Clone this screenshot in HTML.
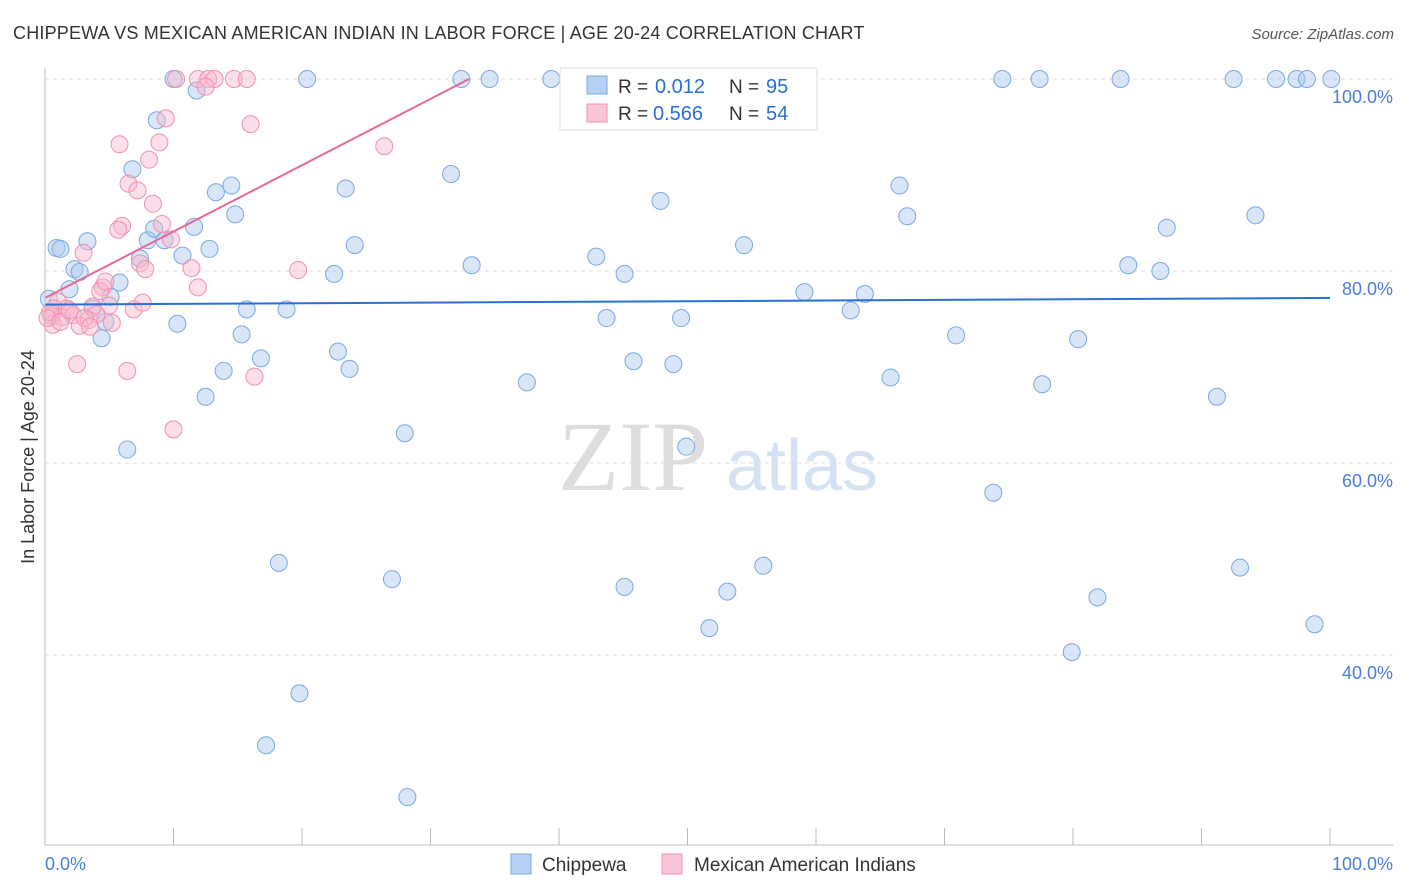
<!DOCTYPE html>
<html><head><meta charset="utf-8"><style>
body{margin:0;background:#fff;font-family:"Liberation Sans",sans-serif;}
svg{display:block}
</style></head><body>
<svg id="chart" width="1406" height="892" xmlns="http://www.w3.org/2000/svg">
<text x="13" y="39" font-size="18" fill="#333" letter-spacing="0.2">CHIPPEWA VS MEXICAN AMERICAN INDIAN IN LABOR FORCE | AGE 20-24 CORRELATION CHART</text>
<text x="1394" y="39" font-size="15" fill="#555" font-style="italic" text-anchor="end">Source: ZipAtlas.com</text>
<g id="grid"></g>
<g><text x="633" y="490" font-size="100" fill="#ddd" font-family="Liberation Serif" text-anchor="middle">ZIP</text><text x="802" y="490" font-size="72" fill="#d4e2f4" text-anchor="middle">atlas</text></g>
<g id="pts"></g>
<g id="lines"></g>
<line x1="45" y1="68" x2="45" y2="845" stroke="#bbb"/>
<line x1="45" y1="845" x2="1393" y2="845" stroke="#bbb"/>
<g id="ticks"></g>
<text transform="translate(34,457) rotate(-90)" font-size="18" fill="#333" text-anchor="middle">In Labor Force | Age 20-24</text>
<text x="45" y="870" font-size="18" fill="#4a7fd8">0.0%</text>
<text x="1393" y="870" font-size="18" fill="#4a7fd8" text-anchor="end">100.0%</text>
<g>
<rect x="560" y="68" width="257" height="62" fill="#fff" stroke="#ddd"/>
<rect x="587" y="76" width="20" height="18" fill="#b6d0f4" stroke="#7aa8e0"/>
<rect x="587" y="104" width="20" height="18" fill="#fbc6d6" stroke="#f090b0"/>
<text x="618" y="93" font-size="19" fill="#333">R =</text><text x="655" y="93" font-size="20" fill="#2a6fd6">0.012</text>
<text x="729" y="93" font-size="19" fill="#333">N =</text><text x="766" y="93" font-size="20" fill="#2a6fd6">95</text>
<text x="618" y="120" font-size="19" fill="#333">R =</text><text x="653" y="120" font-size="20" fill="#2a6fd6">0.566</text>
<text x="729" y="120" font-size="19" fill="#333">N =</text><text x="766" y="120" font-size="20" fill="#2a6fd6">54</text>
</g>
<g><rect x="511" y="854" width="20" height="20" fill="#b6d0f4" stroke="#7aa8e0"/><text x="542" y="871" font-size="19" fill="#333">Chippewa</text></g>
<g><rect x="662" y="854" width="20" height="20" fill="#fbc6d6" stroke="#f090b0"/><text x="694" y="871" font-size="19" fill="#333">Mexican American Indians</text></g>
</svg>
<script>
const yTicks=[100,80,60,40];
const yTickLabels=["100.0%","80.0%","60.0%","40.0%"];
const xTicks=[0,10,20,30,40,50,60,70,80,90,100];
const bluePx=[[173,79],[307,79],[461,79],[489,79],[551,79],[579,79],[790,79],[1002,79],[1040,79],[1121,79],[1233,79],[1276,79],[1297,79],[1307,79],[1331,79],[197,91],[157,120],[641,115],[133,169],[451,174],[216,192],[231,186],[346,188],[661,201],[900,186],[235,214],[907,216],[1256,215],[56,248],[61,249],[87,241],[148,240],[154,229],[165,240],[194,227],[210,249],[355,245],[596,257],[744,245],[1167,228],[75,269],[80,272],[140,259],[182,256],[334,274],[471,265],[624,274],[1128,265],[1160,271],[69,289],[120,283],[49,299],[111,297],[92,308],[247,309],[287,309],[805,292],[865,294],[851,310],[106,322],[177,324],[607,318],[681,318],[102,338],[241,334],[956,335],[1078,339],[338,352],[261,358],[634,361],[674,364],[223,371],[349,369],[527,382],[891,378],[1042,384],[206,397],[1217,397],[405,433],[127,450],[686,447],[993,493],[279,563],[392,579],[625,587],[727,592],[763,566],[1097,597],[1240,568],[1315,624],[709,628],[1072,652],[300,693],[266,745],[407,797]];
const pinkPx=[[176,79],[198,79],[208,79],[215,79],[234,79],[247,79],[206,87],[166,118],[251,124],[119,144],[159,142],[384,146],[149,160],[129,184],[138,190],[153,204],[122,226],[118,230],[162,224],[171,239],[84,253],[140,263],[145,269],[191,268],[298,270],[103,287],[100,291],[198,287],[58,302],[54,308],[67,308],[93,307],[109,306],[134,309],[143,303],[52,316],[62,317],[73,315],[89,320],[96,314],[112,323],[53,325],[80,326],[77,364],[127,371],[254,377],[174,429],[50,312],[47,318],[60,322],[85,318],[70,310],[90,327],[106,282]];
const blueX=bluePx.map(p=>+((p[0]-45)/12.85).toFixed(1)), blueY=bluePx.map(p=>+(100-(p[1]-79)/9.6).toFixed(1));
const pinkX=pinkPx.map(p=>+((p[0]-45)/12.85).toFixed(1)), pinkY=pinkPx.map(p=>+(100-(p[1]-79)/9.6).toFixed(1));
const blueLine=[[0,76.5],[100,77.2]];
const pinkLine=[[0,77.2],[33,100]];
const X=v=>45+v*12.85, Y=v=>79+(100-v)*9.6;
const NS="http://www.w3.org/2000/svg";
function mk(t,a,p){const e=document.createElementNS(NS,t);for(const k in a)e.setAttribute(k,a[k]);p.appendChild(e);return e;}
const grid=document.getElementById('grid');
yTicks.forEach((v,i)=>{
 const l=mk('line',{x1:45,x2:1393,y1:Y(v),y2:Y(v),stroke:'#ddd','stroke-dasharray':'4,4'},grid);
 
 
 const t=mk('text',{x:1393,y:Y(v)+24,'font-size':18,fill:'#4a7fd8','text-anchor':'end'},grid);
 t.textContent=yTickLabels[i];
 
 
});
const ticks=document.getElementById('ticks');
xTicks.forEach(v=>{
 const l=mk('line',{x1:X(v),x2:X(v),y1:828,y2:845,stroke:'#bbb'},ticks);
 
 
});
const pts=document.getElementById('pts');
function draw(xs,ys,fill,stroke,name){xs.forEach((x,i)=>{
 const c=mk('circle',{cx:X(x),cy:Y(ys[i]),r:8.5,fill:fill,'fill-opacity':0.45,stroke:stroke,'stroke-width':1},pts);
 
 
});}
draw(blueX,blueY,'#a8c8f0','#7aa8e0','chippewa-point');
draw(pinkX,pinkY,'#f8b8cc','#f090b0','mexican-point');
const lines=document.getElementById('lines');
const bl=mk('line',{x1:X(blueLine[0][0]),y1:Y(blueLine[0][1]),x2:X(blueLine[1][0]),y2:Y(blueLine[1][1]),stroke:'#2a6fd6','stroke-width':2},lines);


const pl=mk('line',{x1:X(pinkLine[0][0]),y1:Y(pinkLine[0][1]),x2:X(pinkLine[1][0]),y2:Y(pinkLine[1][1]),stroke:'#e8689a','stroke-width':2},lines);


</script>
</body></html>
